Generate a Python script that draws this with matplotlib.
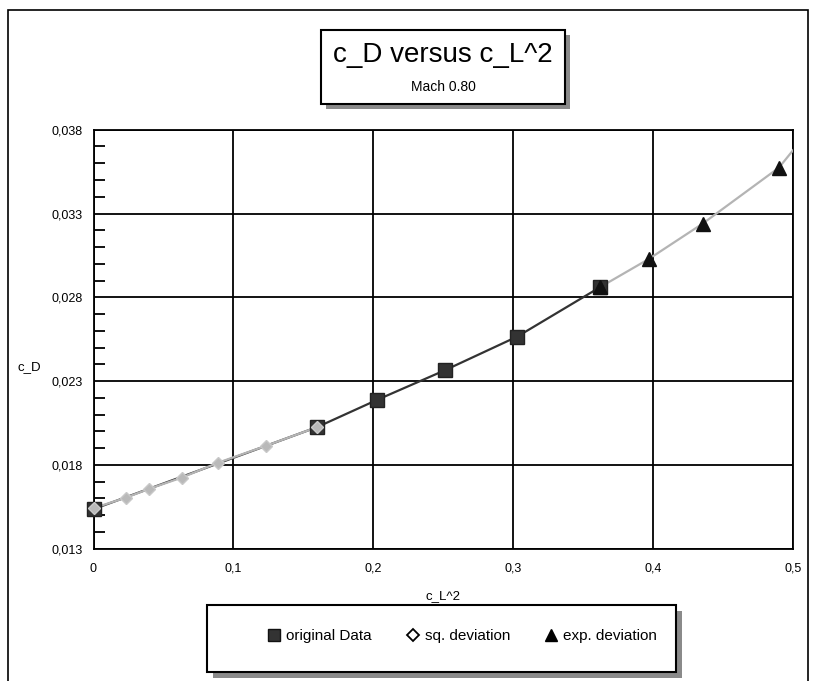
import matplotlib
matplotlib.use('Agg')
import matplotlib.pyplot as plt
from matplotlib.patches import Rectangle
from matplotlib.lines import Line2D
from matplotlib.ticker import MultipleLocator, FuncFormatter

plt.rcParams['font.family'] = ['Liberation Sans', 'DejaVu Sans']

# ---- data ----
orig_x = [0.0, 0.160, 0.203, 0.251, 0.303, 0.362]
orig_y = [0.01536, 0.02026, 0.02189, 0.02364, 0.02566, 0.0286]

sq_x = [0.0, 0.023, 0.040, 0.063, 0.089, 0.123, 0.160]
sq_y = [0.01542, 0.01604, 0.01658, 0.01724, 0.01813, 0.01913, 0.02026]

exp_x = [0.362, 0.397, 0.4355, 0.490]
exp_y = [0.0286, 0.03029, 0.0324, 0.03574]
exp_curve_x = [0.362, 0.397, 0.4355, 0.490, 0.5]
exp_curve_y = [0.0286, 0.03029, 0.0324, 0.03574, 0.03677]

x_ticks = [0.0, 0.1, 0.2, 0.3, 0.4, 0.5]
y_ticks = [0.013, 0.018, 0.023, 0.028, 0.033, 0.038]

title = "c_D versus c_L^2"
subtitle = "Mach 0.80"
xlabel = "c_L^2"
ylabel = "c_D"
legend_labels = ["original Data", "sq. deviation", "exp. deviation"]

W, H = 815, 681
fig = plt.figure(figsize=(W / 100, H / 100), dpi=100)


def fx(px):
    return px / W


def fy(py):
    return 1 - py / H


def box(x0, y0, x1, y1, shadow=5):
    fig.add_artist(Rectangle((fx(x0 + shadow), fy(y1 + shadow)), (x1 - x0) / W, (y1 - y0) / H,
                             transform=fig.transFigure, fc='#8a8a8a', ec='none', zorder=1))
    fig.add_artist(Rectangle((fx(x0), fy(y1)), (x1 - x0) / W, (y1 - y0) / H,
                             transform=fig.transFigure, fc='white', ec='black', lw=1.5, zorder=2))


# outer frame
fig.add_artist(Rectangle((fx(8), fy(720)), 800 / W, 710 / H, transform=fig.transFigure,
                         fill=False, ec='black', lw=1.2, clip_on=False))

ax = fig.add_axes([fx(93.5), fy(548.7), (793 - 93.5) / W, (548.7 - 129.7) / H])
ax.set_xlim(0, 0.5)
ax.set_ylim(0.013, 0.038)

ax.plot(orig_x, orig_y, color='#333333', lw=1.6, zorder=3)
ax.plot(sq_x, sq_y, color='#b4b4b4', lw=1.6, zorder=4)
ax.plot(exp_curve_x, exp_curve_y, color='#b4b4b4', lw=1.6, zorder=4)
ax.plot(orig_x, orig_y, ls='none', marker='s', ms=10.5, mfc='#333333', mec='#222222', zorder=5, clip_on=False)
ax.plot(sq_x, sq_y, ls='none', marker='D', ms=6.5, mfc='#b9b9b9', mec='#c8c8c8', zorder=6, clip_on=False)
ax.plot(exp_x, exp_y, ls='none', marker='^', ms=10, mfc='#111111', mec='#111111', zorder=7, clip_on=False)

ax.set_xticks(x_ticks)
ax.set_yticks(y_ticks)
ax.yaxis.set_minor_locator(MultipleLocator(0.001))
ax.xaxis.set_major_formatter(FuncFormatter(lambda v, p: ('%g' % round(v, 3)).replace('.', ',')))
ax.yaxis.set_major_formatter(FuncFormatter(lambda v, p: ('%.3f' % v).replace('.', ',')))
ax.tick_params(axis='both', which='major', length=0, labelsize=9, colors='black')
ax.tick_params(axis='x', pad=10)
ax.tick_params(axis='y', pad=8)
ax.tick_params(axis='y', which='minor', direction='in', length=8, width=1.3, color='black')
ax.grid(True, which='major', color='black', lw=1.3)
for s in ax.spines.values():
    s.set_linewidth(1.3)
    s.set_color('black')

ax.set_xlabel(xlabel, fontsize=9.5)
ax.xaxis.set_label_coords(0.5, -(590 - 548.7) / 419)
fig.text(fx(17), fy(367), ylabel, fontsize=9.5, ha='left', va='center')

# title box
box(321, 30, 565, 104)
fig.text(fx(443), fy(55), title, fontsize=20, ha='center', va='center', zorder=3)
fig.text(fx(443), fy(87), subtitle, fontsize=10, ha='center', va='center', zorder=3)

# legend box
box(207, 605, 676, 672, shadow=6)
handles = [
    Line2D([], [], ls='none', marker='s', ms=8, mfc='#333333', mec='#111111'),
    Line2D([], [], ls='none', marker='D', ms=6, mfc='white', mec='black', mew=1.3),
    Line2D([], [], ls='none', marker='^', ms=9, mfc='black', mec='black'),
]
leg = fig.legend(handles, legend_labels, loc='center', bbox_to_anchor=(fx(462), fy(636)),
                 ncol=3, frameon=False, fontsize=11, handlelength=0.9, handletextpad=0.35,
                 columnspacing=2.2)
leg.set_zorder(5)

fig.savefig('out.png', dpi=100)
